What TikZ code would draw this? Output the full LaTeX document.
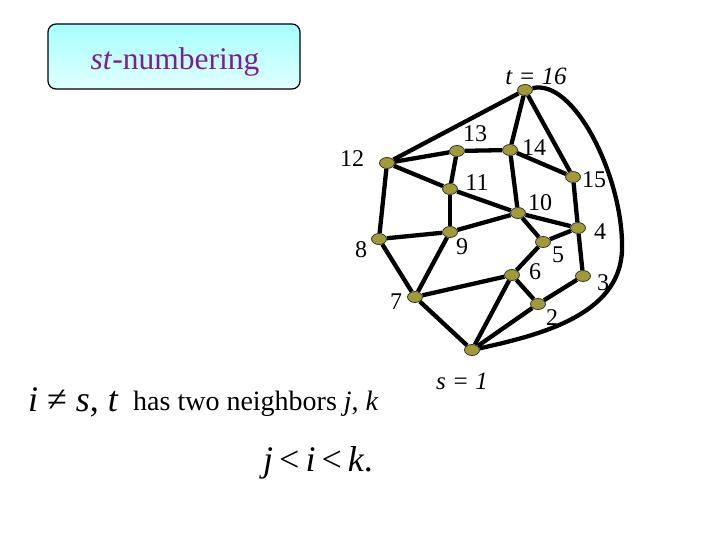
\documentclass[tikz,border=0pt]{standalone}
\usepackage{fontspec}
\setmainfont{Liberation Serif}
\usetikzlibrary{shapes.geometric, backgrounds}
\definecolor{dotfill}{RGB}{160,155,55}
\definecolor{titlepurple}{RGB}{125,30,150}
\tikzstyle{vertex} = [ellipse,draw=black!80,line width=0.8pt,fill=dotfill,minimum width=15pt,minimum height=11pt,inner sep=0pt]
\tikzstyle{edge} = [line width=4.3pt]
\tikzstyle{num} = [font=\fontsize{24}{24}\selectfont,inner sep=0pt]
\tikzstyle{titlebox} = [draw,rounded corners=8pt,line width=1.2pt,top color=cyan!35,bottom color=cyan!12,minimum width=252pt,minimum height=65pt]
\tikzstyle{bigtext} = [font=\fontsize{36}{36}\selectfont,inner sep=0pt]

\begin{document}
\begin{tikzpicture}[x=1pt,y=-1pt]
\useasboundingbox (0,0) rectangle (720,540);

% title
\node[titlebox] (titlebox) at (174,56.5) {};
\node[text=titlepurple,font=\fontsize{31.5}{31.5}\selectfont] (title) at (175,62) {\textit{st}-numbering};

% vertices
\foreach \n/\x/\y in {16/525/90, 13/457/151, 14/510/150, 12/387/163, 11/450/189,
                      15/573/177, 10/518/213, 4/578/228, 9/450/232, 8/379/239,
                      5/543/242, 6/512/275, 3/583/276, 7/415/297, 2/538/304, 1/472/350}
    \node[vertex] (v\n) at (\x,\y) {};

% edges
\begin{scope}[on background layer]
\foreach \a/\b in {16/12, 16/14, 16/15, 12/13, 13/14, 12/11, 13/11, 11/10, 14/10,
                   14/15, 15/4, 12/8, 11/9, 8/9, 9/10, 10/4, 10/5, 5/4, 4/3,
                   8/7, 9/7, 7/6, 5/6, 6/2, 6/1, 3/2, 2/1, 7/1}
    \draw[edge] (v\a) -- (v\b);
\coordinate (bend) at (622,250);
\draw[edge] (v16) .. controls (575,78) and (624,180) .. (bend)
                  .. controls (620,315) and (540,335) .. (v1);
\end{scope}

% labels
\node[num,font=\fontsize{25}{25}\selectfont] (l16) at (536,76) {\textit{t = 16}};
\node[num] (l13) at (475,134) {13};
\node[num] (l14) at (534,148) {14};
\node[num] (l12) at (352,159) {12};
\node[num] (l11) at (477,183) {11};
\node[num] (l15) at (594,180) {15};
\node[num] (l10) at (540,203) {10};
\node[num] (l4) at (600,232) {4};
\node[num] (l9) at (462,247) {9};
\node[num] (l8) at (361,250) {8};
\node[num] (l5) at (558,255) {5};
\node[num] (l6) at (535,272) {6};
\node[num] (l3) at (603,283) {3};
\node[num] (l7) at (396,302) {7};
\node[num] (l2) at (552,318) {2};
\node[num,font=\fontsize{25}{25}\selectfont] (l1) at (462,381) {\textit{s = 1}};

% condition
\node[bigtext,anchor=west] (cond) at (28,402) {\textit{i} ≠ \textit{s}, \textit{t}};
\node[anchor=base west,inner sep=0pt,font=\fontsize{28}{28}\selectfont] (nbrs) at (133,410) {has two neighbors \textit{j}, \textit{k}};
\node[bigtext] (order) at (318,463) {\textit{j}\,<\,\textit{i}\,<\,\textit{k}.};
\end{tikzpicture}
\end{document}
